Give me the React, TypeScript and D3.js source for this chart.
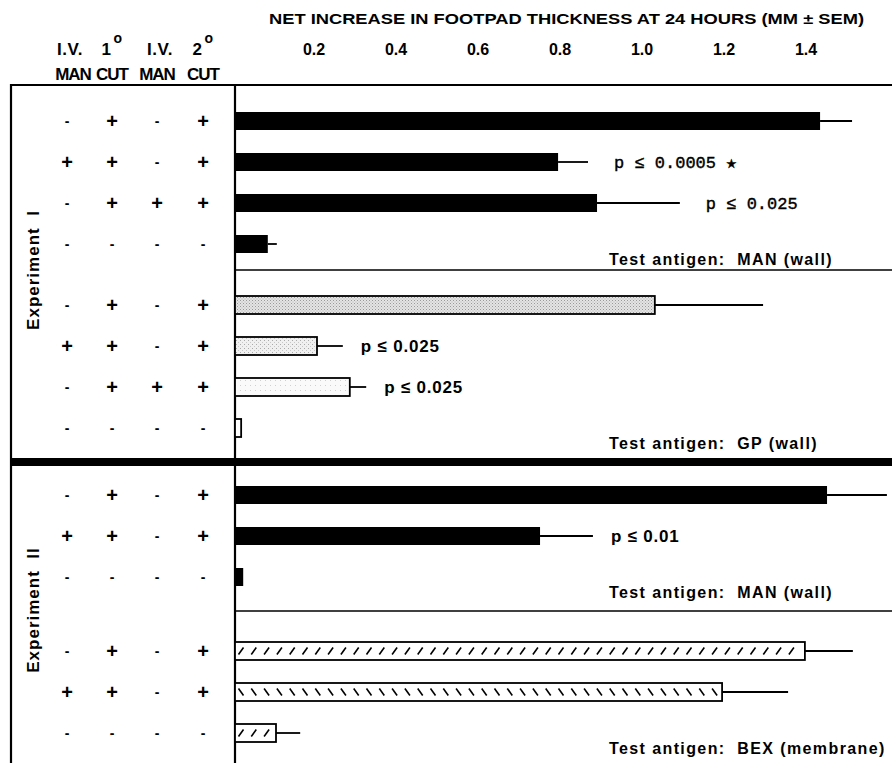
import React from 'react';
import * as d3 from 'd3';

const tickValues = [0.2, 0.4, 0.6, 0.8, 1.0, 1.2, 1.4];
const tickLabels = ['0.2', '0.4', '0.6', '0.8', '1.0', '1.2', '1.4'];
const means = [1.427, 0.788, 0.883, 0.08, 1.024, 0.2, 0.28, 0.015, 1.444, 0.744, 0.02, 1.39, 1.188, 0.1];
const sems = [0.078, 0.073, 0.202, 0.022, 0.264, 0.063, 0.04, 0, 0.146, 0.129, 0, 0.117, 0.161, 0.059];
const ivMan1 = ['-', '+', '-', '-', '-', '+', '-', '-', '-', '+', '-', '-', '+', '-'];
const cut1 = ['+', '+', '+', '-', '+', '+', '+', '-', '+', '+', '-', '+', '+', '-'];
const ivMan2 = ['-', '-', '+', '-', '-', '-', '+', '-', '-', '-', '-', '-', '-', '-'];
const cut2 = ['+', '+', '+', '-', '+', '+', '+', '-', '+', '+', '-', '+', '+', '-'];
const panelOf = [0, 0, 0, 0, 1, 1, 1, 1, 2, 2, 2, 3, 3, 3];
const fills = ['solid', 'solid', 'solid', 'solid', 'stip1', 'stip2', 'stip3', 'open', 'solid', 'solid', 'solid', 'hatchF', 'hatchB', 'hatchF'];
const pLabels = ['', 'p ≤ 0.0005 ★', 'p ≤ 0.025', '', '', 'p ≤ 0.025', 'p ≤ 0.025', '', '', 'p ≤ 0.01', '', '', '', ''];
const pMono = [false, true, true, false, false, false, false, false, false, false, false, false, false, false];
const antigenLabels = ['Test antigen:  MAN (wall)', 'Test antigen:  GP (wall)', 'Test antigen:  MAN (wall)', 'Test antigen:  BEX (membrane)'];
const experimentLabels = ['Experiment  I', 'Experiment  II'];
const headerTop = ['I.V.', '1', 'I.V.', '2'];
const headerSup = ['', 'o', '', 'o'];
const headerBottom = ['MAN', 'CUT', 'MAN', 'CUT'];
const title = 'NET INCREASE IN FOOTPAD THICKNESS AT 24 HOURS (MM ± SEM)';

const W = 892;
const H = 763;
const X0 = 235;
const panelBottom = [270, 458, 611, 763];
const rowStart = [121, 305, 495, 651];
const rowStep = 41;
const barH = 18;
const colX = [67, 112, 157, 203];
const SANS = 'Liberation Sans, Arial, Helvetica, sans-serif';
const MONO = 'Liberation Mono, DejaVu Sans Mono, monospace';

export default function App() {
  const x = d3.scaleLinear().domain([0, 1.6]).range([X0, W - 1]);

  const rowY: number[] = [];
  const counter = [0, 0, 0, 0];
  panelOf.forEach((p) => {
    rowY.push(rowStart[p] + rowStep * counter[p]);
    counter[p] += 1;
  });
  const lastRowOfPanel = [0, 1, 2, 3].map((p) => d3.max(rowY.filter((_, i) => panelOf[i] === p)) as number);

  const fillFor = (f: string) => {
    if (f === 'solid') return '#000';
    if (f === 'stip1') return 'url(#stip1)';
    if (f === 'stip2') return 'url(#stip2)';
    if (f === 'stip3') return 'url(#stip3)';
    return '#fff';
  };

  return (
    <svg width={W} height={H} style={{ position: 'absolute', left: 0, top: 0, display: 'block', background: '#fff' }}>
      <defs>
        <pattern id="stip1" width="3" height="3" patternUnits="userSpaceOnUse">
          <rect width="3" height="3" fill="#e4e4e4" />
          <rect x="0" y="0" width="1" height="1" fill="#999" />
          <rect x="1.5" y="1.5" width="1" height="1" fill="#b0b0b0" />
        </pattern>
        <pattern id="stip2" width="4" height="4" patternUnits="userSpaceOnUse">
          <rect width="4" height="4" fill="#f0f0f0" />
          <rect x="0" y="0" width="1" height="1" fill="#aaa" />
          <rect x="2" y="2" width="1" height="1" fill="#c8c8c8" />
        </pattern>
        <pattern id="stip3" width="5" height="5" patternUnits="userSpaceOnUse">
          <rect width="5" height="5" fill="#fafafa" />
          <rect x="0" y="0" width="1" height="1" fill="#d0d0d0" />
        </pattern>
      </defs>

      {/* Title */}
      <text x={269} y={24} fontFamily={SANS} fontSize={15} fontWeight="bold" textLength={595} lengthAdjust="spacingAndGlyphs" fill="#000">
        {title}
      </text>

      {/* Tick labels */}
      {tickValues.map((v, i) => (
        <text key={'t' + i} x={x(v) - 3} y={55} textAnchor="middle" fontFamily={SANS} fontSize={16} fontWeight="bold" fill="#000">
          {tickLabels[i]}
        </text>
      ))}

      {/* Header of left table */}
      {headerTop.map((h, i) => (
        <text key={'ht' + i} x={colX[i] + (headerSup[i] ? 0 : 3)} y={55} textAnchor="middle" fontFamily={SANS} fontSize={17} fontWeight="bold" letterSpacing={0.5} fill="#000">
          {h}
          {headerSup[i] ? <tspan dx={2} dy={-12} fontSize={14}>{headerSup[i]}</tspan> : null}
        </text>
      ))}
      {headerBottom.map((h, i) => (
        <text key={'hb' + i} x={colX[i] + (i === 0 ? 6 : 0)} y={80} textAnchor="middle" fontFamily={SANS} fontSize={17} fontWeight="bold" letterSpacing={-1} fill="#000">
          {h}
        </text>
      ))}

      {/* Frame lines */}
      <line x1={10} x2={W} y1={85} y2={85} stroke="#000" strokeWidth={2.2} />
      <line x1={11} x2={11} y1={84} y2={H} stroke="#000" strokeWidth={2.2} />
      <line x1={X0} x2={X0} y1={84} y2={H} stroke="#000" strokeWidth={2.2} />
      <line x1={10} x2={W} y1={462} y2={462} stroke="#000" strokeWidth={8} />
      <line x1={X0} x2={W} y1={panelBottom[0]} y2={panelBottom[0]} stroke="#000" strokeWidth={1.6} />
      <line x1={X0} x2={W} y1={panelBottom[2]} y2={panelBottom[2]} stroke="#000" strokeWidth={1.6} />

      {/* Experiment labels */}
      {experimentLabels.map((e, i) => {
        const cy = i === 0 ? panelBottom[0] : panelBottom[2] - 1;
        return (
          <text key={'e' + i} transform={`translate(39,${cy}) rotate(-90)`} textAnchor="middle" fontFamily={SANS} fontSize={17} fontWeight="bold" letterSpacing={1} fill="#000" style={{ whiteSpace: 'pre' }}>
            {e}
          </text>
        );
      })}

      {/* Plus/minus table */}
      {means.map((_, r) => {
        const cols = [ivMan1[r], cut1[r], ivMan2[r], cut2[r]];
        return cols.map((s, c) => (
          <text key={`s${r}-${c}`} x={colX[c]} y={rowY[r] + (s === '+' ? 7 : 5)} textAnchor="middle" fontFamily={SANS} fontSize={s === '+' ? 20 : 14} fontWeight="bold" fill="#000">
            {s}
          </text>
        ));
      })}

      {/* Error bars */}
      {means.map((m, r) =>
        sems[r] > 0 ? (
          <line key={'err' + r} x1={x(m)} x2={x(m + sems[r])} y1={rowY[r]} y2={rowY[r]} stroke="#000" strokeWidth={1.8} />
        ) : null
      )}

      {/* Bars */}
      {means.map((m, r) => {
        const y0 = rowY[r] - barH / 2;
        const w = x(m) - X0;
        const f = fills[r];
        const hatch = f === 'hatchF' || f === 'hatchB';
        const marks = hatch ? d3.range(X0 + 6, x(m) - 3, 12.8) : [];
        return (
          <g key={'bar' + r}>
            <rect x={X0} y={y0} width={w} height={barH} fill={fillFor(f)} stroke="#000" strokeWidth={f === 'solid' ? 0 : 1.8} />
            {marks.map((mx, k) =>
              f === 'hatchF' ? (
                <line key={k} x1={mx - 2.5} y1={y0 + 12.5} x2={mx + 2.5} y2={y0 + 5.5} stroke="#000" strokeWidth={1.6} />
              ) : (
                <line key={k} x1={mx - 2.5} y1={y0 + 5.5} x2={mx + 2.5} y2={y0 + 12.5} stroke="#000" strokeWidth={1.6} />
              )
            )}
          </g>
        );
      })}

      {/* p-value labels */}
      {pLabels.map((p, r) =>
        p ? (
          <text key={'p' + r} x={x(means[r] + sems[r]) + (pMono[r] ? 26 : 18)} y={rowY[r] + 6} fontFamily={pMono[r] ? MONO : SANS} fontSize={17} fontWeight={pMono[r] ? 'normal' : 'bold'} letterSpacing={pMono[r] ? 0 : 0.8} stroke={pMono[r] ? '#000' : 'none'} strokeWidth={pMono[r] ? 0.4 : 0} fill="#000" style={{ whiteSpace: 'pre' }}>
            {p}
          </text>
        ) : null
      )}

      {/* Test antigen labels */}
      {antigenLabels.map((a, i) => (
        <text key={'a' + i} x={609} y={lastRowOfPanel[i] + 21} fontFamily={SANS} fontSize={16} fontWeight="bold" letterSpacing={1.4} fill="#000" style={{ whiteSpace: 'pre' }}>
          {a}
        </text>
      ))}
    </svg>
  );
}
